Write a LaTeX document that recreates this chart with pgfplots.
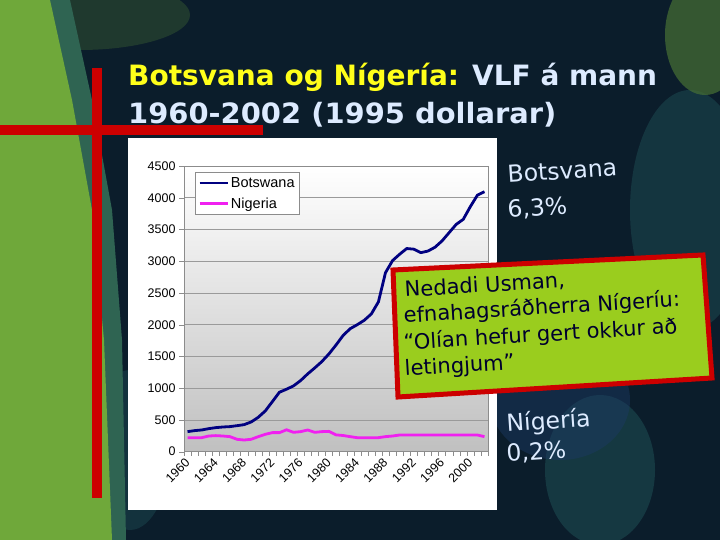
\documentclass[border=0pt]{standalone}
\usepackage{pgfplots}
\pgfplotsset{compat=1.18}
\usepackage{fontspec}
\setmainfont{DejaVu Sans}
\newfontfamily\arial{Liberation Sans}

\definecolor{bgdark}{HTML}{0B1D2B}
\definecolor{bgteal}{HTML}{1F5358}
\definecolor{bgblue}{HTML}{1C3A66}
\definecolor{leafgreen}{HTML}{6FA83A}
\definecolor{redc}{HTML}{CC0000}
\definecolor{boxgreen}{HTML}{9ACD1E}
\definecolor{boxtext}{HTML}{00002E}
\definecolor{ttlyellow}{HTML}{FFFF1A}
\definecolor{ttllight}{HTML}{DDEBFF}
\definecolor{botsw}{HTML}{000080}
\definecolor{niger}{HTML}{F020F0}
\definecolor{plotgray}{HTML}{C0C0C0}
\definecolor{gridgray}{HTML}{9A9A9A}
\definecolor{axisgray}{HTML}{8C8C8C}

\begin{document}
\begin{tikzpicture}[x=1bp,y=1bp]
\useasboundingbox (0,0) rectangle (720,540);
% background
\fill[bgdark] (0,0) rectangle (720,540);
\fill[bgteal, opacity=.45] (690,330) ellipse (60 and 120);
\fill[bgteal, opacity=.5] (600,70) ellipse (55 and 75);
\fill[bgblue, opacity=.45] (560,140) ellipse (70 and 60);
\fill[bgteal, opacity=.4] (650,230) ellipse (60 and 45);
\fill[leafgreen!60!bgdark, opacity=.7] (705,505) ellipse (40 and 60);
\fill[bgteal, opacity=.4] (130,90) ellipse (40 and 80);
\fill[leafgreen!40!bgdark, opacity=.5] (80,525) ellipse (110 and 35);
\fill[bgteal!80!leafgreen] (0,540) -- (70,540) -- (92,440) -- (112,330) -- (122,200) -- (126,0) -- (0,0) -- cycle;
\fill[leafgreen] (0,540) -- (50,540) -- (72,440) -- (92,330) -- (104,200) -- (112,0) -- (0,0) -- cycle;
% red cross
\fill[redc] (92,42) rectangle (102,472);
\fill[redc] (0,405) rectangle (263,415);
% chart box
\fill[white] (128,30) rectangle (497,402);

\begin{axis}[
  at={(184bp,88.3bp)}, anchor=south west,
  scale only axis, width=304bp, height=285.7bp,
  xmin=1959.5, xmax=2002.5, ymin=0, ymax=4500,
  axis background/.style={top color=white, bottom color=plotgray},
  axis line style={draw=axisgray},
  ytick={0,500,...,4500}, ymajorgrids,
  major grid style={draw=gridgray, line width=0.9bp},
  xtick={1960,1964,...,2000},
  minor xtick={1959.5,1960.5,...,2002.5},
  major x tick style={draw=none},
  minor x tick style={draw=axisgray},
  major y tick style={draw=axisgray},
  tick pos=left, tick align=outside,
  major tick length=5bp, minor tick length=4bp,
  ticklabel style={font=\arial\fontsize{12.5bp}{14bp}\selectfont},
  xticklabel style={rotate=45, anchor=east, inner sep=0bp},
  xticklabel shift=4bp,
  /pgf/number format/assume math mode=true,
  /pgf/number format/1000 sep={},
  legend style={at={(0.036,0.979)}, anchor=north west, draw=axisgray,
    fill=white, font=\arial\fontsize{14.5bp}{16bp}\selectfont,
    inner sep=3bp, row sep=5bp},
  legend cell align=left,
  legend image code/.code={\draw[#1] (0bp,0bp) -- (28bp,0bp);},
]
\addplot[botsw, line width=2.8bp, line join=round] coordinates {
  (1960,316) (1961,332) (1962,342) (1963,363) (1964,379) (1965,389)
  (1966,395) (1967,410) (1968,426) (1969,468) (1970,542) (1971,642)
  (1972,789) (1973,937) (1974,984) (1975,1037) (1976,1121) (1977,1226)
  (1978,1320) (1979,1420) (1980,1540) (1981,1680) (1982,1830) (1983,1937)
  (1984,2000) (1985,2070) (1986,2170) (1987,2360) (1988,2820) (1989,3010)
  (1990,3110) (1991,3200) (1992,3190) (1993,3135) (1994,3160) (1995,3220)
  (1996,3320) (1997,3450) (1998,3580) (1999,3660) (2000,3860) (2001,4040)
  (2002,4095)
};
\addlegendentry{Botswana}
\addplot[niger, line width=2.8bp, line join=round] coordinates {
  (1960,221) (1961,221) (1962,221) (1963,247) (1964,253) (1965,247)
  (1966,237) (1967,195) (1968,184) (1969,195) (1970,237) (1971,274)
  (1972,300) (1973,300) (1974,345) (1975,305) (1976,316) (1977,342)
  (1978,305) (1979,316) (1980,320) (1981,265) (1982,255) (1983,237)
  (1984,221) (1985,221) (1986,221) (1987,221) (1988,237) (1989,247)
  (1990,263) (1991,263) (1992,263) (1993,263) (1994,263) (1995,263)
  (1996,263) (1997,263) (1998,263) (1999,263) (2000,263) (2001,263)
  (2002,237)
};
\addlegendentry{Nigeria}
\end{axis}

% title
\node[anchor=base west, inner sep=0, font=\bfseries\fontsize{28bp}{30bp}\selectfont]
  at (128,454) {\textcolor{ttlyellow}{Botsvana og Nígería:} \textcolor{ttllight}{VLF á mann}};
\node[anchor=base west, inner sep=0, text=ttllight, font=\bfseries\fontsize{28bp}{30bp}\selectfont]
  at (128,416) {\resizebox{428bp}{\height}{1960-2002 (1995 dollarar)}};

% side notes
\node[anchor=base west, inner sep=0, rotate=4, text=ttllight, font=\fontsize{23.5bp}{26bp}\selectfont]
  at (508,357) {Botsvana};
\node[anchor=base west, inner sep=0, rotate=4, text=ttllight, font=\fontsize{23.5bp}{26bp}\selectfont]
  at (508,322) {6,3\%};
\node[anchor=base west, inner sep=0, rotate=4, text=ttllight, font=\fontsize{23.5bp}{26bp}\selectfont]
  at (507,108) {Nígería};
\node[anchor=base west, inner sep=0, rotate=4, text=ttllight, font=\fontsize{23.5bp}{26bp}\selectfont]
  at (507,78) {0,2\%};

% quote box
\filldraw[fill=boxgreen, draw=redc, line width=5bp, line join=miter]
  (393,270) -- (703,285) -- (712,162) -- (398,143) -- cycle;
\begin{scope}[every node/.style={anchor=base west, inner sep=0, rotate=3.5,
    text=boxtext, font=\fontsize{21bp}{24bp}\selectfont}]
\node at (405,243) {Nedadi Usman,};
\node at (404,217) {efnahagsráðherra Nígeríu:};
\node at (404,190) {“Olían hefur gert okkur að};
\node at (405,164) {letingjum”};
\end{scope}
\end{tikzpicture}
\end{document}
